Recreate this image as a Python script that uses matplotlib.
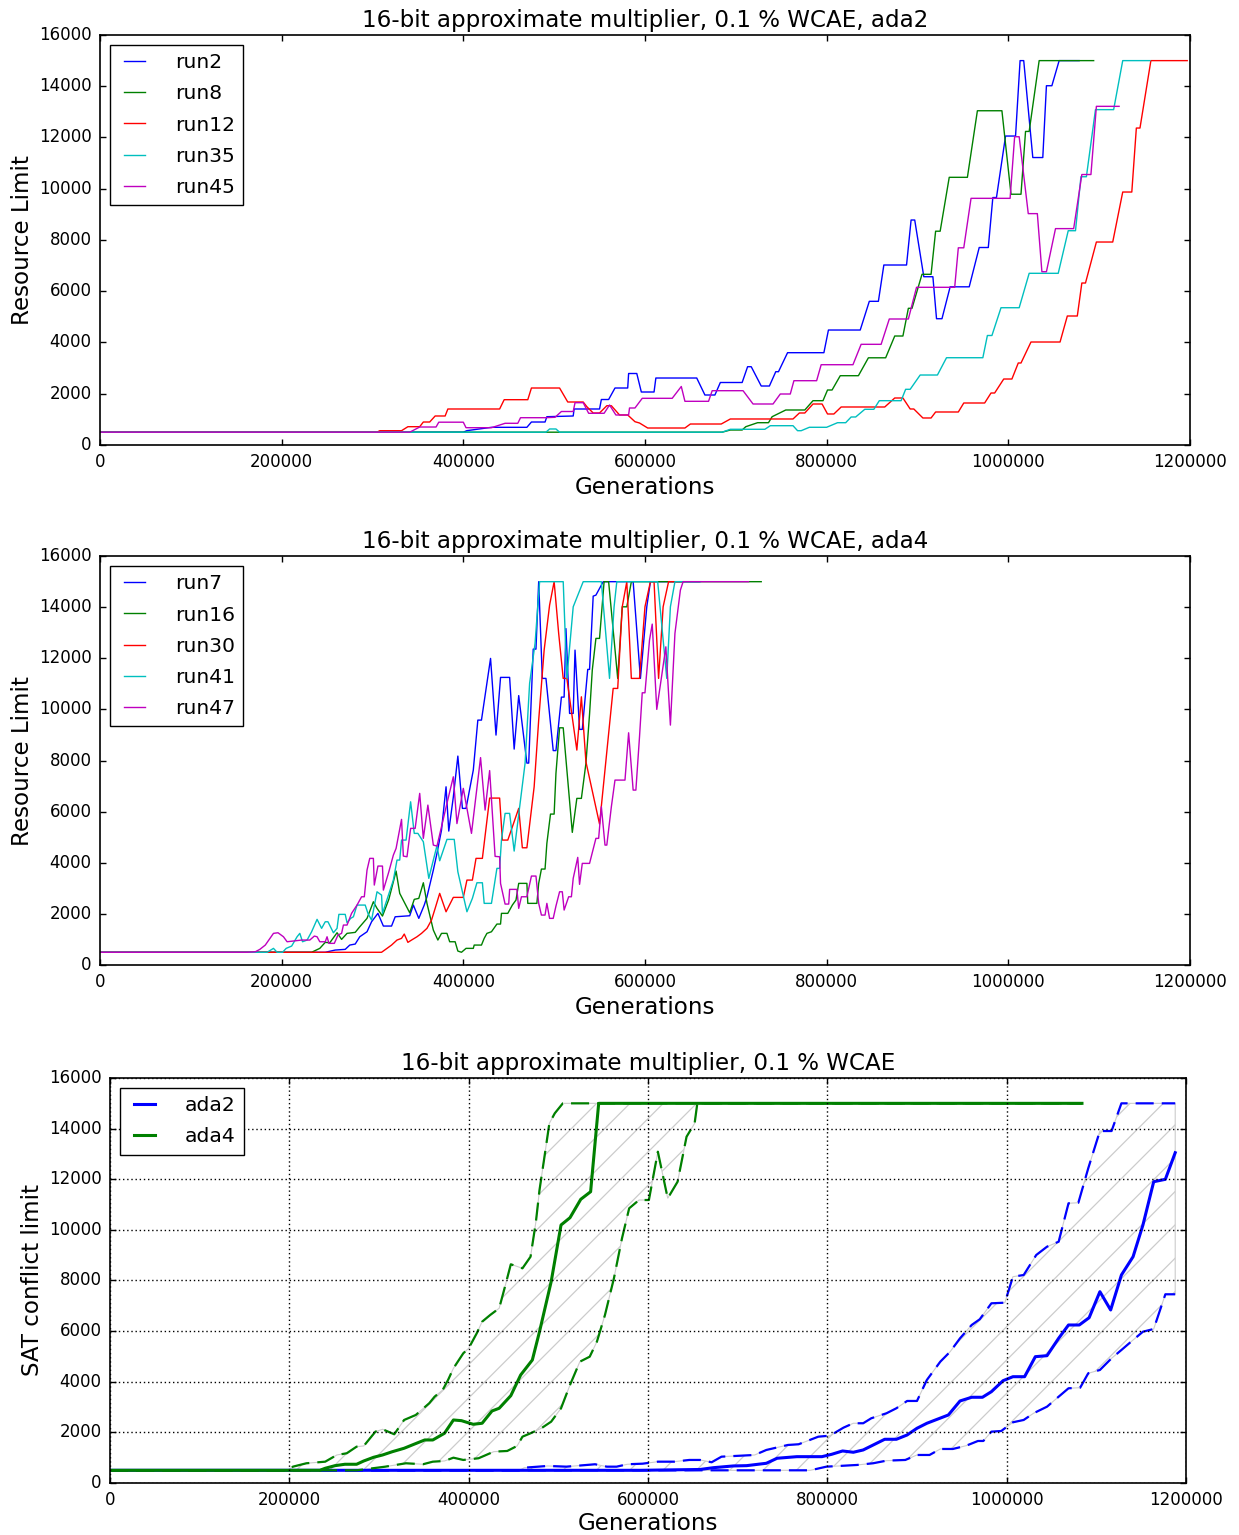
import numpy as np
import matplotlib
matplotlib.use('Agg')
import matplotlib.pyplot as plt

# generations are given in thousands, values are the resource / conflict limit

# ---- ada2 runs (top panel)
ada2_names = ['run2', 'run8', 'run12', 'run35', 'run45']
run2_gen = [0, 400, 404, 431, 470, 475, 490, 492, 521, 522, 550, 552, 560, 567, 581, 582, 591, 596, 610, 612,
            657, 666, 677, 683, 707, 713, 717, 728, 737, 744, 747, 757, 797, 802, 837, 847, 857, 863, 888, 893,
            897, 907, 917, 921, 927, 936, 957, 968, 978, 983, 987, 997, 1008, 1013, 1017, 1027, 1038, 1042, 1048,
            1056, 1078]
run2_val = [500, 500, 560, 690, 690, 897, 897, 1104, 1132, 1405, 1405, 1775, 1775, 2224, 2224, 2790, 2790, 2068,
            2068, 2614, 2614, 1951, 1951, 2439, 2439, 3055, 3055, 2302, 2302, 2860, 2860, 3602, 3602, 4487, 4487,
            5607, 5607, 7024, 7024, 8780, 8780, 6567, 6567, 4928, 4928, 6173, 6173, 7707, 7707, 9657, 9657, 12057,
            12057, 15000, 15000, 11218, 11218, 14020, 14020, 15000, 15000]
run8_gen = [0, 685, 694, 707, 711, 724, 736, 740, 755, 776, 785, 796, 801, 806, 815, 835, 846, 865, 875, 884,
            890, 894, 905, 915, 920, 925, 935, 955, 966, 993, 1003, 1014, 1019, 1023, 1034, 1094]
run8_val = [500, 500, 585, 585, 714, 870, 870, 1104, 1366, 1366, 1729, 1729, 2146, 2146, 2704, 2704, 3403, 3403,
            4253, 4253, 5334, 5334, 6661, 6661, 8343, 8343, 10446, 10446, 13044, 13044, 9786, 9786, 12237, 12237,
            15000, 15000]
run12_gen = [0, 305, 308, 332, 339, 352, 356, 363, 369, 380, 383, 440, 445, 471, 475, 506, 515, 532, 536, 543,
             550, 558, 563, 572, 581, 589, 594, 603, 644, 650, 684, 694, 763, 770, 776, 785, 795, 801, 808, 816,
             864, 875, 884, 892, 896, 906, 915, 920, 945, 951, 974, 981, 985, 995, 1004, 1011, 1014, 1025, 1057,
             1065, 1076, 1081, 1085, 1097, 1115, 1126, 1136, 1141, 1145, 1157, 1197]
run12_val = [500, 500, 558, 558, 714, 714, 897, 897, 1132, 1132, 1405, 1405, 1768, 1768, 2224, 2224, 1678, 1678,
             1495, 1249, 1249, 1533, 1533, 1171, 1171, 909, 858, 663, 663, 819, 819, 1015, 1015, 1249, 1249, 1600,
             1600, 1210, 1210, 1483, 1483, 1834, 1834, 1405, 1405, 1054, 1054, 1288, 1288, 1639, 1639, 2029, 2029,
             2575, 2575, 3200, 3200, 4019, 4019, 5034, 5034, 6321, 6321, 7921, 7921, 9872, 9872, 12369, 12369,
             15000, 15000]
run35_gen = [0, 491, 495, 502, 506, 685, 694, 732, 738, 763, 768, 772, 781, 800, 812, 821, 827, 832, 842, 852,
             858, 882, 887, 892, 903, 922, 932, 972, 977, 982, 992, 1012, 1023, 1055, 1066, 1074, 1080, 1086, 1096,
             1116, 1126, 1156]
run35_val = [500, 500, 625, 625, 500, 500, 613, 613, 753, 753, 558, 558, 691, 691, 870, 870, 1093, 1093, 1393,
             1393, 1729, 1729, 2173, 2173, 2731, 2731, 3406, 3406, 4273, 4273, 5357, 5357, 6700, 6700, 8362, 8362,
             10469, 10469, 13087, 13087, 15000, 15000]
run45_gen = [0, 341, 352, 370, 373, 400, 403, 431, 446, 460, 463, 490, 501, 508, 521, 523, 532, 538, 555, 561,
             568, 582, 583, 589, 597, 630, 640, 644, 670, 674, 708, 719, 741, 749, 760, 764, 789, 794, 829, 838,
             860, 869, 890, 899, 941, 945, 951, 959, 1002, 1007, 1012, 1022, 1032, 1037, 1042, 1052, 1072, 1081,
             1091, 1097, 1122]
run45_val = [500, 500, 702, 702, 890, 890, 675, 675, 847, 847, 1065, 1065, 1081, 1307, 1307, 1651, 1651, 1237,
             1237, 1561, 1171, 1171, 1444, 1444, 1822, 1822, 2283, 1705, 1705, 2119, 2119, 1600, 1600, 1990, 1990,
             2509, 2509, 3133, 3133, 3929, 3929, 4917, 4917, 6154, 6154, 7695, 7695, 9626, 9626, 12030, 12030, 9029,
             9029, 6762, 6762, 8444, 8444, 10555, 10555, 13216, 13216]

# ---- ada4 runs (middle panel)
ada4_names = ['run7', 'run16', 'run30', 'run41', 'run47']
run7_gen = [0, 248, 259, 270, 275, 281, 286, 294, 299, 306, 312, 321, 325, 341, 345, 351, 357, 360, 367, 371,
            376, 381, 384, 389, 394, 399, 403, 411, 416, 420, 430, 436, 441, 451, 456, 461, 470, 472, 477, 480,
            483, 487, 491, 499, 502, 508, 511, 513, 517, 521, 523, 528, 531, 537, 539, 543, 546, 554, 587, 595,
            602, 606, 660]
run7_val = [500, 500, 587, 614, 782, 822, 1107, 1303, 1694, 2023, 1526, 1526, 1889, 1929, 2347, 1827, 2347, 2672,
            3716, 4370, 5281, 6975, 5242, 6572, 8176, 6130, 6130, 7628, 9584, 9584, 11998, 8998, 11255, 11255,
            8450, 10543, 7902, 7902, 12362, 12362, 15000, 11216, 11216, 8391, 8391, 10484, 10484, 13164, 9846,
            9846, 12323, 9221, 9221, 11568, 11568, 14435, 14474, 15000, 15000, 11216, 14017, 15000, 15000]
run16_gen = [0, 233, 242, 248, 253, 261, 266, 272, 281, 286, 294, 301, 305, 311, 318, 326, 330, 341, 346, 351,
             356, 360, 367, 372, 376, 382, 385, 391, 394, 398, 403, 411, 412, 420, 423, 426, 431, 437, 441, 442,
             449, 454, 458, 461, 470, 471, 481, 483, 486, 490, 492, 496, 500, 502, 506, 510, 520, 525, 530, 535,
             539, 542, 546, 550, 555, 560, 570, 575, 580, 585, 728]
run16_val = [500, 500, 653, 888, 872, 1264, 1005, 1240, 1279, 1498, 1827, 2476, 2218, 1917, 2570, 3677, 2805,
             2046, 2570, 2609, 3220, 2414, 1369, 978, 1240, 1240, 912, 912, 548, 500, 653, 653, 782, 782, 1045,
             1240, 1303, 1604, 1604, 2023, 2023, 2347, 2543, 3196, 3196, 2414, 2414, 3196, 3756, 3756, 4761, 5907,
             5907, 7499, 9283, 9283, 5191, 6521, 6521, 7890, 9819, 11540, 12781, 12781, 15000, 15000, 11216, 14017,
             14017, 15000, 15000]
run30_gen = [0, 310, 316, 321, 327, 332, 335, 339, 343, 349, 354, 360, 365, 369, 374, 381, 389, 400, 404, 410,
             414, 421, 429, 440, 443, 449, 461, 465, 470, 478, 483, 489, 495, 500, 505, 510, 514, 525, 530, 535,
             550, 565, 570, 575, 580, 585, 594, 600, 606, 610, 615, 620, 626, 642]
run30_val = [500, 500, 653, 782, 978, 1045, 1213, 888, 978, 1107, 1240, 1436, 1760, 2218, 2805, 2085, 2648, 2648,
             3325, 3325, 4174, 4174, 6533, 6533, 4890, 4890, 6130, 4589, 4589, 6975, 9584, 12323, 14083, 15000,
             12976, 11216, 11216, 8411, 10496, 7953, 5516, 10824, 10824, 14017, 15000, 11216, 11216, 14017, 15000,
             15000, 11216, 14017, 15000, 15000]
run41_gen = [0, 184, 191, 195, 201, 205, 211, 217, 220, 223, 228, 233, 239, 244, 248, 251, 257, 261, 263, 270,
             272, 276, 279, 283, 292, 295, 299, 305, 310, 311, 317, 323, 327, 330, 332, 337, 342, 346, 350, 356,
             362, 367, 371, 374, 382, 390, 394, 404, 410, 415, 421, 423, 431, 437, 440, 442, 446, 451, 456, 468,
             473, 479, 484, 510, 514, 521, 532, 552, 561, 566, 569, 614, 624, 628, 633, 661]
run41_val = [500, 500, 653, 500, 500, 653, 743, 1107, 1240, 912, 978, 1303, 1788, 1436, 1694, 1694, 1264, 1436,
             1983, 1983, 1655, 1827, 1889, 2347, 2347, 2023, 1760, 2867, 2738, 2023, 2672, 3325, 4108, 4108, 4890,
             4890, 6388, 5152, 5152, 4824, 3392, 4108, 4667, 4080, 4917, 4917, 3650, 2085, 2609, 3220, 3220, 2414,
             2414, 3783, 3783, 4890, 5934, 5934, 4460, 7890, 11020, 12585, 15000, 15000, 11216, 14017, 15000,
             15000, 11216, 14017, 15000, 15000, 11216, 14017, 15000, 15000]
run47_gen = [0, 162, 171, 176, 182, 191, 196, 202, 206, 222, 231, 236, 239, 242, 248, 250, 252, 258, 262, 266,
             268, 272, 277, 283, 288, 291, 294, 297, 301, 302, 306, 311, 312, 318, 323, 326, 332, 334, 338, 342,
             347, 352, 356, 361, 367, 371, 382, 389, 393, 400, 409, 419, 424, 429, 435, 440, 441, 446, 450, 451,
             459, 461, 464, 470, 475, 480, 483, 486, 490, 492, 495, 499, 502, 506, 509, 511, 516, 519, 521, 526,
             528, 531, 539, 546, 549, 552, 556, 558, 563, 567, 578, 582, 587, 590, 594, 597, 600, 605, 608, 613,
             618, 623, 628, 633, 639, 642, 714]
run47_val = [500, 500, 520, 614, 782, 1240, 1264, 1107, 912, 978, 978, 1134, 1107, 912, 912, 1107, 849, 849,
             1174, 1240, 1565, 1565, 2023, 2347, 2672, 2672, 3716, 4174, 4174, 3130, 3873, 3873, 2934, 3650, 4303,
             4565, 5700, 4264, 4237, 5348, 5348, 6717, 4957, 6259, 4694, 4655, 6325, 7366, 5536, 6913, 5152, 8117,
             6064, 7609, 4252, 4237, 3196, 2386, 2386, 2961, 2961, 2218, 2672, 2672, 3482, 3482, 2414, 1956, 1956,
             2414, 1827, 1827, 2308, 2867, 2867, 2152, 2672, 2672, 3392, 4213, 3157, 3978, 3978, 4957, 4957, 6193,
             4694, 4694, 6193, 7237, 7237, 9088, 6846, 6846, 8931, 10653, 10653, 12714, 13340, 10003, 11216, 12452,
             9389, 12976, 14670, 15000, 15000]

# ---- summary (bottom panel): median and lower / upper band
ada2_med_gen = [0, 591, 658, 673, 695, 710, 732, 744, 766, 794, 805, 817, 829, 840, 864, 877, 889, 900, 911, 935,
                948, 961, 973, 983, 996, 1007, 1020, 1032, 1045, 1058, 1069, 1081, 1092, 1104, 1116, 1128, 1141,
                1152, 1164, 1177, 1188]
ada2_med_val = [500, 500, 533, 604, 672, 684, 778, 976, 1039, 1039, 1134, 1264, 1213, 1304, 1726, 1726, 1896,
                2161, 2358, 2686, 3240, 3386, 3386, 3607, 4041, 4199, 4199, 4990, 5029, 5716, 6242, 6242, 6530,
                7558, 6835, 8217, 8940, 10193, 11903, 11998, 13049]
ada2_hi_gen = [0, 457, 462, 488, 509, 541, 554, 565, 577, 594, 611, 629, 646, 658, 671, 682, 719, 732, 756, 768,
               790, 803, 818, 829, 840, 849, 866, 877, 889, 900, 911, 926, 937, 948, 961, 970, 983, 998, 1007, 1019,
               1033, 1045, 1058, 1069, 1080, 1091, 1104, 1117, 1128, 1188]
ada2_hi_val = [500, 500, 603, 672, 644, 739, 644, 644, 739, 762, 841, 841, 909, 909, 818, 1039, 1106, 1304, 1501,
               1529, 1829, 1869, 2185, 2359, 2359, 2556, 2754, 2951, 3240, 3240, 4069, 4792, 5187, 5716, 6242, 6467,
               7099, 7123, 8150, 8217, 9007, 9335, 9533, 11050, 11074, 12433, 13906, 13906, 15000, 15000]
ada2_lo_gen = [0, 781, 799, 833, 851, 866, 887, 900, 914, 926, 940, 955, 968, 974, 983, 994, 1007, 1019, 1030,
               1045, 1058, 1069, 1082, 1091, 1104, 1117, 1128, 1141, 1152, 1164, 1177, 1188]
ada2_lo_val = [500, 500, 644, 711, 778, 881, 909, 1106, 1106, 1343, 1343, 1474, 1659, 1659, 2027, 2054, 2398,
               2489, 2754, 3014, 3409, 3741, 3765, 4334, 4464, 4926, 5254, 5649, 5977, 6084, 7455, 7455]

ada4_med_gen = [0, 234, 240, 251, 262, 275, 283, 294, 304, 315, 328, 339, 351, 360, 373, 383, 392, 405, 415, 426,
                434, 447, 458, 471, 479, 492, 503, 513, 525, 536, 545, 1084]
ada4_med_val = [500, 500, 581, 684, 739, 739, 869, 1015, 1106, 1237, 1371, 1529, 1699, 1699, 1963, 2489, 2461,
                2319, 2359, 2844, 2951, 3449, 4267, 4859, 5977, 7953, 10193, 10481, 11208, 11508, 15000, 15000]
ada4_hi_gen = [0, 198, 204, 219, 240, 253, 264, 275, 283, 296, 304, 317, 328, 341, 356, 362, 371, 377, 383, 394,
               400, 409, 415, 424, 434, 441, 447, 460, 469, 475, 479, 484, 490, 496, 505, 1084]
ada4_hi_val = [500, 500, 644, 778, 841, 1106, 1173, 1434, 1462, 2027, 2121, 1924, 2489, 2686, 3149, 3409, 3674,
               4069, 4531, 5124, 5322, 5914, 6372, 6637, 6902, 7822, 8640, 8482, 8940, 10323, 11575, 12760, 14210,
               14605, 15000, 15000]
ada4_lo_gen = [0, 275, 287, 307, 330, 349, 360, 373, 383, 394, 411, 428, 443, 454, 460, 469, 481, 492, 503, 513,
               524, 535, 543, 552, 562, 571, 579, 590, 601, 611, 622, 633, 643, 652, 655, 1084]
ada4_lo_val = [500, 500, 553, 644, 778, 739, 841, 869, 999, 909, 976, 1237, 1264, 1462, 1829, 1963, 2161, 2422,
               2951, 3872, 4792, 4990, 5582, 6637, 8087, 9667, 10852, 11180, 11180, 13088, 11247, 11903, 13681,
               14210, 15000, 15000]

xticks = [0, 200000, 400000, 600000, 800000, 1000000, 1200000]
yticks = [0, 2000, 4000, 6000, 8000, 10000, 12000, 14000, 16000]

plt.style.use('classic')
# drawn at 200 dpi -> all point sizes are half of the usual ones
plt.rcParams.update({
    'figure.facecolor': 'white', 'savefig.facecolor': 'white',
    'font.family': 'DejaVu Sans', 'font.size': 6,
    'axes.titlesize': 8.3, 'axes.labelsize': 8.3, 'legend.fontsize': 7.3,
    'lines.linewidth': 0.5, 'axes.linewidth': 0.6, 'patch.linewidth': 0.5,
    'xtick.major.size': 2, 'ytick.major.size': 2, 'xtick.minor.size': 1, 'ytick.minor.size': 1,
    'xtick.major.width': 0.5, 'ytick.major.width': 0.5,
    'xtick.major.pad': 3, 'ytick.major.pad': 3,
    'axes.titlepad': 3, 'axes.labelpad': 1.8,
    'hatch.linewidth': 0.45,
    'legend.handlelength': 1.6, 'legend.handletextpad': 1.2, 'legend.labelspacing': 0.6,
})

fig = plt.figure(figsize=(6.195, 7.675), dpi=200)


def k(g):
    return np.array(g) * 1000


def run_panel(rect, title, names, gens, vals):
    ax = fig.add_axes(rect)
    for name, g, v in zip(names, gens, vals):
        ax.plot(k(g), v, label=name)
    ax.set_xlim(0, 1200000)
    ax.set_ylim(0, 16000)
    ax.set_xticks(xticks)
    ax.set_yticks(yticks)
    ax.set_title(title)
    ax.set_xlabel('Generations')
    ax.set_ylabel('Resource Limit')
    ax.legend(loc='upper left')
    return ax


run_panel([0.0807, 0.7101, 0.8797, 0.2671], '16-bit approximate multiplier, 0.1 % WCAE, ada2', ada2_names,
          [run2_gen, run8_gen, run12_gen, run35_gen, run45_gen],
          [run2_val, run8_val, run12_val, run35_val, run45_val])
run_panel([0.0807, 0.3713, 0.8797, 0.2664], '16-bit approximate multiplier, 0.1 % WCAE, ada4', ada4_names,
          [run7_gen, run16_gen, run30_gen, run41_gen, run47_gen],
          [run7_val, run16_val, run30_val, run41_val, run47_val])

ax3 = fig.add_axes([0.0888, 0.0339, 0.8684, 0.2638])
dash = (0, (6.5, 2.9))
for lo_g, lo_v, hi_g, hi_v in [(ada2_lo_gen, ada2_lo_val, ada2_hi_gen, ada2_hi_val),
                               (ada4_lo_gen, ada4_lo_val, ada4_hi_gen, ada4_hi_val)]:
    ax3.fill(np.r_[k(hi_g), k(lo_g)[::-1]], np.r_[hi_v, lo_v[::-1]],
             facecolor='none', edgecolor='0.8', hatch='//', linewidth=0.4)
for col, name, mg, mv, lg, lv, hg, hv in [
        ('b', 'ada2', ada2_med_gen, ada2_med_val, ada2_lo_gen, ada2_lo_val, ada2_hi_gen, ada2_hi_val),
        ('g', 'ada4', ada4_med_gen, ada4_med_val, ada4_lo_gen, ada4_lo_val, ada4_hi_gen, ada4_hi_val)]:
    ax3.plot(k(lg), lv, color=col, lw=0.8, linestyle=dash)
    ax3.plot(k(hg), hv, color=col, lw=0.8, linestyle=dash)
    ax3.plot(k(mg), mv, color=col, lw=1.1, label=name)
ax3.set_xlim(0, 1200000)
ax3.set_ylim(0, 16000)
ax3.set_xticks(xticks)
ax3.set_yticks(yticks)
ax3.grid(True, color='black', linestyle=(0, (0.5, 1.0)), linewidth=0.5)
ax3.set_title('16-bit approximate multiplier, 0.1 % WCAE')
ax3.set_xlabel('Generations', labelpad=1.0)
ax3.set_ylabel('SAT conflict limit')
ax3.legend(loc='upper left')

fig.savefig('out.png', dpi=200)
plt.close(fig)
